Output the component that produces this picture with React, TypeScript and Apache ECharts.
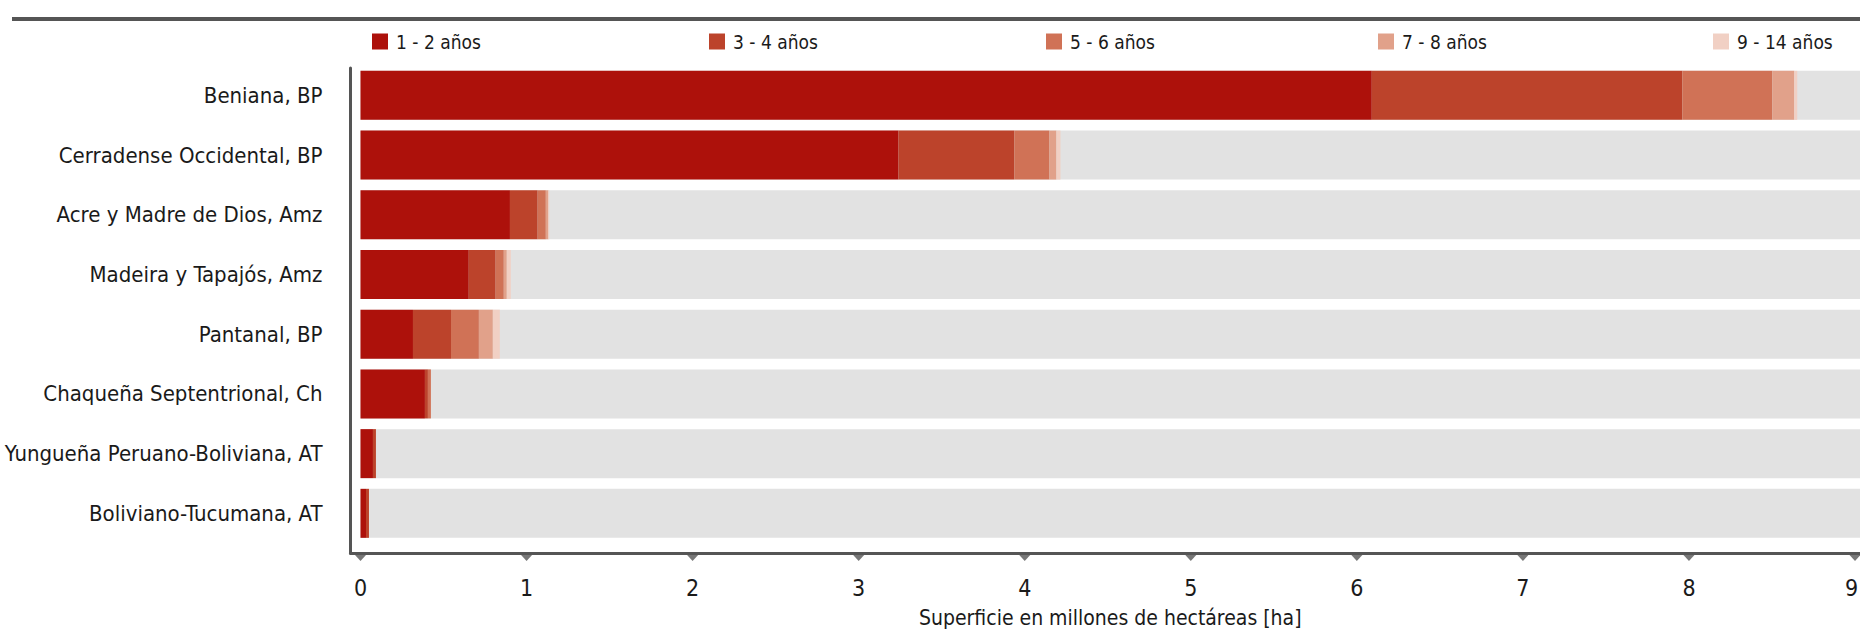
import React, { useEffect, useRef } from 'react';
import * as echarts from 'echarts';

const categories = [
  'Beniana, BP',
  'Cerradense Occidental, BP',
  'Acre y Madre de Dios, Amz',
  'Madeira y Tapajós, Amz',
  'Pantanal, BP',
  'Chaqueña Septentrional, Ch',
  'Yungueña Peruano-Boliviana, AT',
  'Boliviano-Tucumana, AT',
];
const seriesNames = ['1 - 2 años', '3 - 4 años', '5 - 6 años', '7 - 8 años', '9 - 14 años'];
const anos1a2 = [6.09, 3.24, 0.9, 0.652, 0.316, 0.388, 0.075, 0.033];
const anos3a4 = [1.87, 0.697, 0.167, 0.162, 0.229, 0.018, 0.018, 0.018];
const anos5a6 = [0.542, 0.212, 0.049, 0.049, 0.168, 0.018, 0, 0];
const anos7a8 = [0.132, 0.042, 0.015, 0.018, 0.084, 0, 0, 0];
const anos9a14 = [0.018, 0.024, 0.006, 0.024, 0.042, 0, 0, 0];
const xTicks = [0, 1, 2, 3, 4, 5, 6, 7, 8, 9];
const axisTitle = 'Superficie en millones de hectáreas [ha]';

const colors = ['#ad110b', '#bc432b', '#d07256', '#e1a18a', '#f1d0c4'];
const legendLeft = [372, 709, 1046, 1378, 1713];
const FONT = "'DejaVu Sans Condensed', 'Liberation Sans Narrow', 'DejaVu Sans', sans-serif";
const AXIS = '#555555';

export default function App() {
  const ref = useRef<HTMLDivElement>(null);
  useEffect(() => {
    if (!ref.current) return;
    const chart = echarts.init(ref.current, undefined, { renderer: 'svg' });
    const values = [anos1a2, anos3a4, anos5a6, anos7a8, anos9a14];
    const lastTick = xTicks[xTicks.length - 1];
    const barSeries = values.map((v, i) => ({
      type: 'bar',
      name: seriesNames[i],
      stack: 'total',
      xAxisIndex: 0,
      yAxisIndex: 0,
      barWidth: 49,
      data: v,
      itemStyle: { color: colors[i] },
      showBackground: i === 0,
      backgroundStyle: { color: '#e2e2e2' },
      silent: true,
    }));
    const option: any = {
      animation: false,
      textStyle: { fontFamily: FONT },
      graphic: [
        {
          type: 'line',
          shape: { x1: 12, y1: 19, x2: 1860, y2: 19 },
          style: { stroke: AXIS, lineWidth: 4 },
        },
      ],
      legend: seriesNames.map((n, i) => ({
        data: [n],
        left: legendLeft[i],
        top: 32,
        padding: 0,
        itemWidth: 16,
        itemHeight: 16,
        icon: 'rect',
        selectedMode: false,
        textStyle: { fontSize: 19, color: '#1a1a1a', fontFamily: FONT, lineHeight: 16, padding: [0, 0, 0, 3] },
      })),
      grid: [
        { left: 360.5, top: 65.5, right: 0, bottom: 98.8, containLabel: false, outerBoundsMode: 'none' },
        { left: 350.5, top: 68, right: 0, bottom: 89, containLabel: false, outerBoundsMode: 'none' },
      ],
      xAxis: [
        {
          type: 'value',
          gridIndex: 0,
          min: 0,
          max: 9.03,
          interval: 1,
          axisLine: { show: false },
          axisTick: { show: false },
          splitLine: { show: false },
          axisLabel: {
            fontSize: 23,
            color: '#1a1a1a',
            margin: 33,
            showMaxLabel: false,
            fontFamily: FONT,
            formatter: (v: number) => (v === lastTick ? '{last|' + v + '}' : String(v)),
            rich: {
              last: { fontSize: 23, color: '#1a1a1a', fontFamily: FONT, padding: [0, 7, 0, 0] },
            },
          },
          name: axisTitle,
          nameLocation: 'middle',
          nameGap: 64,
          nameTextStyle: { fontSize: 21, color: '#1a1a1a', fontFamily: FONT },
        },
        {
          type: 'value',
          gridIndex: 1,
          min: 0,
          max: 1,
          axisLine: { show: true, lineStyle: { color: AXIS, width: 3 } },
          axisTick: { show: false },
          axisLabel: { show: false },
          splitLine: { show: false },
        },
      ],
      yAxis: [
        {
          type: 'category',
          gridIndex: 0,
          inverse: true,
          data: categories,
          axisLine: { show: false },
          axisTick: { show: false },
          splitLine: { show: false },
          axisLabel: { fontSize: 22, color: '#1a1a1a', margin: 38, fontFamily: FONT },
        },
        {
          type: 'value',
          gridIndex: 1,
          min: 0,
          max: 1,
          axisLine: { show: true, onZero: false, lineStyle: { color: AXIS, width: 3 } },
          axisTick: { show: false },
          axisLabel: { show: false },
          splitLine: { show: false },
        },
        {
          type: 'value',
          gridIndex: 0,
          min: 0,
          max: 1,
          show: false,
        },
      ],
      series: [
        ...barSeries,
        {
          type: 'scatter',
          xAxisIndex: 0,
          yAxisIndex: 2,
          clip: false,
          silent: true,
          symbol: 'triangle',
          symbolRotate: 180,
          symbolSize: [11, 6],
          itemStyle: { color: AXIS },
          data: xTicks.map((t) => [t, -0.031]),
        },
      ],
    };
    chart.setOption(option);
    return () => chart.dispose();
  }, []);
  return (
    <div
      ref={ref}
      style={{ position: 'absolute', left: 0, top: 0, width: 1860, height: 642, background: '#fff' }}
    />
  );
}
